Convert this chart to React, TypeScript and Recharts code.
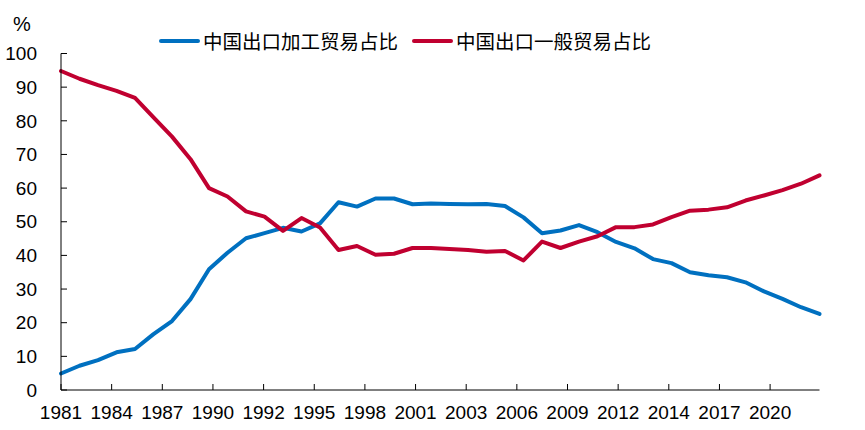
import React from 'react';
import { LineChart, Line, XAxis, YAxis, Legend, Label } from 'recharts';

// years plotted, one point per year
const years = [
  1981, 1982, 1983, 1984, 1985, 1986, 1987, 1988, 1989, 1990, 1991, 1992, 1993, 1994,
  1995, 1996, 1997, 1998, 1999, 2000, 2001, 2002, 2003, 2004, 2005, 2006, 2007, 2008,
  2009, 2010, 2011, 2012, 2013, 2014, 2015, 2016, 2017, 2018, 2019, 2020, 2021, 2022,
];

// 中国出口加工贸易占比 (%)
const processingShare = [
  4.9, 7.2, 8.9, 11.2, 12.2, 16.6, 20.5, 27.0, 35.9, 40.8, 45.1, 46.6, 48.2, 47.1,
  49.5, 55.8, 54.5, 56.9, 56.9, 55.2, 55.4, 55.3, 55.2, 55.3, 54.7, 51.3, 46.6, 47.4,
  49.0, 46.9, 44.0, 42.1, 38.9, 37.7, 35.0, 34.1, 33.5, 32.0, 29.3, 27.1, 24.6, 22.6,
];

// 中国出口一般贸易占比 (%)
const generalShare = [
  94.8, 92.5, 90.6, 88.9, 86.8, 81.0, 75.3, 68.6, 60.0, 57.5, 53.1, 51.5, 47.3, 51.1,
  48.3, 41.6, 42.8, 40.2, 40.5, 42.2, 42.2, 41.9, 41.6, 41.1, 41.3, 38.5, 44.1, 42.2,
  44.1, 45.7, 48.4, 48.4, 49.2, 51.4, 53.3, 53.6, 54.3, 56.3, 57.8, 59.4, 61.3, 63.8,
];

// date-axis labels, one every 1000 days from the first point
const tickLabels = [
  '1981', '1984', '1987', '1990', '1992', '1995', '1998', '2001',
  '2003', '2006', '2009', '2012', '2014', '2017', '2020',
];
const yTicks = [0, 10, 20, 30, 40, 50, 60, 70, 80, 90, 100];

const seriesNames = ['中国出口加工贸易占比', '中国出口一般贸易占比'];
const BLUE = '#0070C0';
const RED = '#C00030';

const data = years.map((year, i) => ({
  year,
  processing: processingShare[i],
  general: generalShare[i],
}));

const xTicks = tickLabels.map((_, i) => years[0] + (i * 1000) / 365.25);

const FONT = '"Liberation Sans", Arial, sans-serif';
const CJK = '"Noto Sans CJK SC", "Noto Sans", sans-serif';

const LegendContent = () => (
  <div style={{ display: 'flex', alignItems: 'center', marginLeft: 159, height: 24 }}>
    {[BLUE, RED].map((color, i) => (
      <div key={i} style={{ display: 'flex', alignItems: 'center', marginRight: 14 }}>
        <span
          style={{ display: 'inline-block', width: 41, height: 4, borderRadius: 2, background: color }}
        />
        <span style={{ fontFamily: CJK, fontSize: 19.5, color: '#000', marginLeft: 3, lineHeight: '24px' }}>
          {seriesNames[i]}
        </span>
      </div>
    ))}
  </div>
);

const App: React.FC = () => {
  return (
    <div style={{ position: 'absolute', left: 0, top: 0, width: 865, height: 430, background: '#fff' }}>
      <LineChart
        width={865}
        height={430}
        data={data}
        margin={{ top: 53.5, right: 45.5, bottom: 0, left: 0 }}
      >
        <XAxis
          dataKey="year"
          type="number"
          domain={[1981, 2022]}
          ticks={xTicks}
          interval={0}
          tickFormatter={(_v: number, i: number) => tickLabels[i]}
          height={40}
          stroke="#000"
          tickSize={-6}
          tickMargin={22}
          tick={{ fill: '#000', fontSize: 19, fontFamily: FONT }}
        />
        <YAxis
          type="number"
          domain={[0, 100]}
          ticks={yTicks}
          interval={0}
          width={61}
          stroke="#000"
          tickSize={-6}
          tickMargin={30}
          tick={{ fill: '#000', fontSize: 19, fontFamily: FONT }}
        >
          <Label
            content={() => (
              <text x={22} y={31} textAnchor="middle" fontSize={20} fontFamily={FONT} fill="#000">
                %
              </text>
            )}
          />
        </YAxis>
        <Legend
          layout="horizontal"
          verticalAlign="middle"
          align="center"
          content={LegendContent}
          wrapperStyle={{ top: 29, left: 0, width: 865 }}
        />
        <Line
          type="linear"
          dataKey="processing"
          name={seriesNames[0]}
          stroke={BLUE}
          strokeWidth={4}
          strokeLinejoin="round"
          strokeLinecap="round"
          dot={false}
          isAnimationActive={false}
        />
        <Line
          type="linear"
          dataKey="general"
          name={seriesNames[1]}
          stroke={RED}
          strokeWidth={4}
          strokeLinejoin="round"
          strokeLinecap="round"
          dot={false}
          isAnimationActive={false}
        />
      </LineChart>
    </div>
  );
};

export default App;
